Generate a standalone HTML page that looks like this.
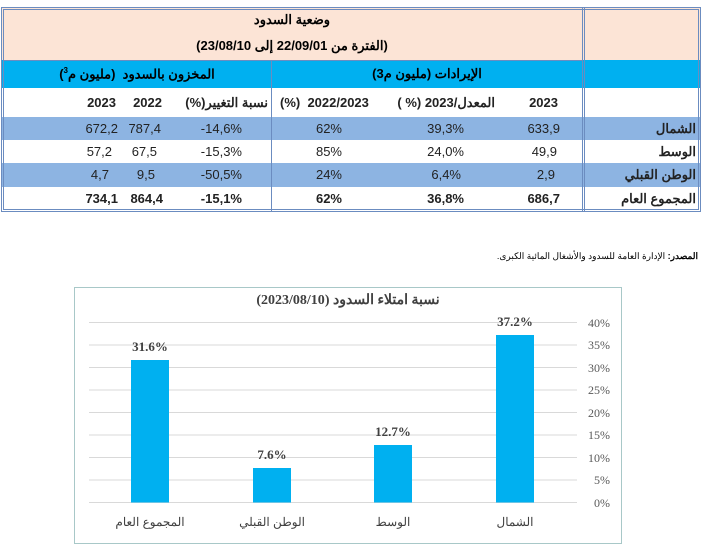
<!DOCTYPE html>
<html><head><meta charset="utf-8"><style>
body{margin:0;width:704px;height:545px;background:#fff;position:relative;overflow:hidden;font-family:"Liberation Sans","Noto Sans CJK SC",sans-serif;}
.a{position:absolute;white-space:nowrap;}
.t{font-size:13px;color:#222;}
.b{font-weight:bold;}
.r{text-align:right;}
.c{text-align:center;}
</style></head><body>
<div class="a" style="left:2px;top:8px;width:698px;height:52px;background:#fce4d6"></div>
<div class="a" style="left:2px;top:60px;width:698px;height:28px;background:#00b0f0"></div>
<div class="a" style="left:2px;top:117px;width:698px;height:23px;background:#8db4e2"></div>
<div class="a" style="left:2px;top:163px;width:698px;height:24px;background:#8db4e2"></div>
<div class="a" style="left:1px;top:7px;width:698px;height:203px;border:1px solid #6b8cc0"></div>
<div class="a" style="left:3px;top:9px;width:694px;height:199px;border:1px solid #6b8cc0"></div>
<div class="a" style="left:582px;top:8px;width:1px;height:203px;background:#6b8cc0"></div>
<div class="a" style="left:584px;top:8px;width:1px;height:203px;background:#6b8cc0"></div>
<div class="a" style="left:271px;top:60px;width:1px;height:151px;background:#6b8cc0"></div>
<div class="a" style="left:3px;top:60px;width:580px;height:1px;background:#6b8cc0"></div>
<div class="a b c" dir="rtl" style="left:2px;top:12px;width:580px;font-size:13px;">وضعية السدود</div>
<div class="a b c" dir="rtl" style="left:2px;top:38px;width:580px;font-size:13px;">(الفترة من 22/09/01 إلى 23/08/10)</div>
<div class="a b c" dir="rtl" style="left:2px;top:66px;width:270px;font-size:13px;">المخزون بالسدود &nbsp;(مليون م<sup style="font-size:8px">3</sup>)</div>
<div class="a b c" dir="rtl" style="left:272px;top:66px;width:310px;font-size:13px;">الإيرادات (مليون م3)</div>
<div class="a b t r" style="left:60px;top:95px;width:56px;">2023</div>
<div class="a b t r" style="left:110px;top:95px;width:52px;">2022</div>
<div class="a b t" dir="rtl" style="left:168px;top:95px;width:100px;">نسبة التغيير(%)</div>
<div class="a b t" style="left:280px;top:95px;">(%)&nbsp; 2022/2023</div>
<div class="a b t" dir="rtl" style="left:393px;top:95px;width:102px;">المعدل/2023 (% )</div>
<div class="a b t r" style="left:500px;top:95px;width:58px;">2023</div>
<div class="a t r" style="left:60px;top:121px;width:58px;">672,2</div>
<div class="a t r" style="left:110px;top:121px;width:51px;">787,4</div>
<div class="a t r" style="left:180px;top:121px;width:62px;">-14,6%</div>
<div class="a t r" style="left:300px;top:121px;width:42px;">62%</div>
<div class="a t r" style="left:400px;top:121px;width:64px;">39,3%</div>
<div class="a t r" style="left:500px;top:121px;width:60px;">633,9</div>
<div class="a b t r" style="left:600px;top:121px;width:96px;">الشمال</div>
<div class="a t r" style="left:60px;top:144px;width:52px;">57,2</div>
<div class="a t r" style="left:110px;top:144px;width:47px;">67,5</div>
<div class="a t r" style="left:180px;top:144px;width:62px;">-15,3%</div>
<div class="a t r" style="left:300px;top:144px;width:42px;">85%</div>
<div class="a t r" style="left:400px;top:144px;width:64px;">24,0%</div>
<div class="a t r" style="left:500px;top:144px;width:57px;">49,9</div>
<div class="a b t r" style="left:600px;top:144px;width:96px;">الوسط</div>
<div class="a t r" style="left:60px;top:167px;width:49px;">4,7</div>
<div class="a t r" style="left:110px;top:167px;width:45px;">9,5</div>
<div class="a t r" style="left:180px;top:167px;width:62px;">-50,5%</div>
<div class="a t r" style="left:300px;top:167px;width:42px;">24%</div>
<div class="a t r" style="left:400px;top:167px;width:61px;">6,4%</div>
<div class="a t r" style="left:500px;top:167px;width:55px;">2,9</div>
<div class="a b t r" style="left:600px;top:167px;width:96px;">الوطن القبلي</div>
<div class="a b t r" style="left:60px;top:191px;width:58px;">734,1</div>
<div class="a b t r" style="left:110px;top:191px;width:53px;">864,4</div>
<div class="a b t r" style="left:180px;top:191px;width:62px;">-15,1%</div>
<div class="a b t r" style="left:300px;top:191px;width:42px;">62%</div>
<div class="a b t r" style="left:400px;top:191px;width:64px;">36,8%</div>
<div class="a b t r" style="left:500px;top:191px;width:60px;">686,7</div>
<div class="a b t r" style="left:600px;top:191px;width:96px;">المجموع العام</div>
<div class="a" dir="rtl" style="left:300px;top:251px;width:398px;font-size:9px;"><b>المصدر:</b> الإدارة العامة للسدود والأشغال المائية الكبرى.</div>
<svg class="a" style="left:0;top:0" width="704" height="545">
<rect x="74.5" y="287.5" width="547" height="256" fill="none" stroke="#a8c8c8" stroke-width="1"/>
<g stroke="#d9d9d9" stroke-width="1">
<line x1="89" x2="577" y1="322.5" y2="322.5"/><line x1="89" x2="577" y1="345" y2="345"/>
<line x1="89" x2="577" y1="367.5" y2="367.5"/><line x1="89" x2="577" y1="390" y2="390"/>
<line x1="89" x2="577" y1="412.5" y2="412.5"/><line x1="89" x2="577" y1="435" y2="435"/>
<line x1="89" x2="577" y1="457.5" y2="457.5"/><line x1="89" x2="577" y1="480" y2="480"/>
<line x1="89" x2="577" y1="502.5" y2="502.5"/>
</g>
<g fill="#00b0f0">
<rect x="131" y="360" width="38" height="142.5"/>
<rect x="253" y="468" width="38" height="34.5"/>
<rect x="374" y="445" width="38" height="57.5"/>
<rect x="496" y="335" width="38" height="167.5"/>
</g>
<g font-family="Liberation Serif, serif" font-size="13" font-weight="bold" fill="#404040" text-anchor="middle">
<text x="150" y="351">31.6%</text><text x="272" y="459">7.6%</text>
<text x="393" y="436">12.7%</text><text x="515" y="326">37.2%</text>
<text x="348" y="304" font-size="14" direction="rtl" unicode-bidi="embed">نسبة امتلاء السدود (2023/08/10)</text>
</g>
<g font-family="Liberation Serif, serif" font-size="12" fill="#595959" text-anchor="end">
<text x="610" y="327">40%</text><text x="610" y="349">35%</text><text x="610" y="372">30%</text>
<text x="610" y="394">25%</text><text x="610" y="417">20%</text><text x="610" y="439">15%</text>
<text x="610" y="462">10%</text><text x="610" y="484">5%</text><text x="610" y="507">0%</text>
</g>
<g font-family="Liberation Sans, sans-serif" font-size="12" fill="#404040" text-anchor="middle">
<text x="150" y="526">المجموع العام</text><text x="272" y="526">الوطن القبلي</text>
<text x="393" y="526">الوسط</text><text x="515" y="526">الشمال</text>
</g>
</svg>
</body></html>
